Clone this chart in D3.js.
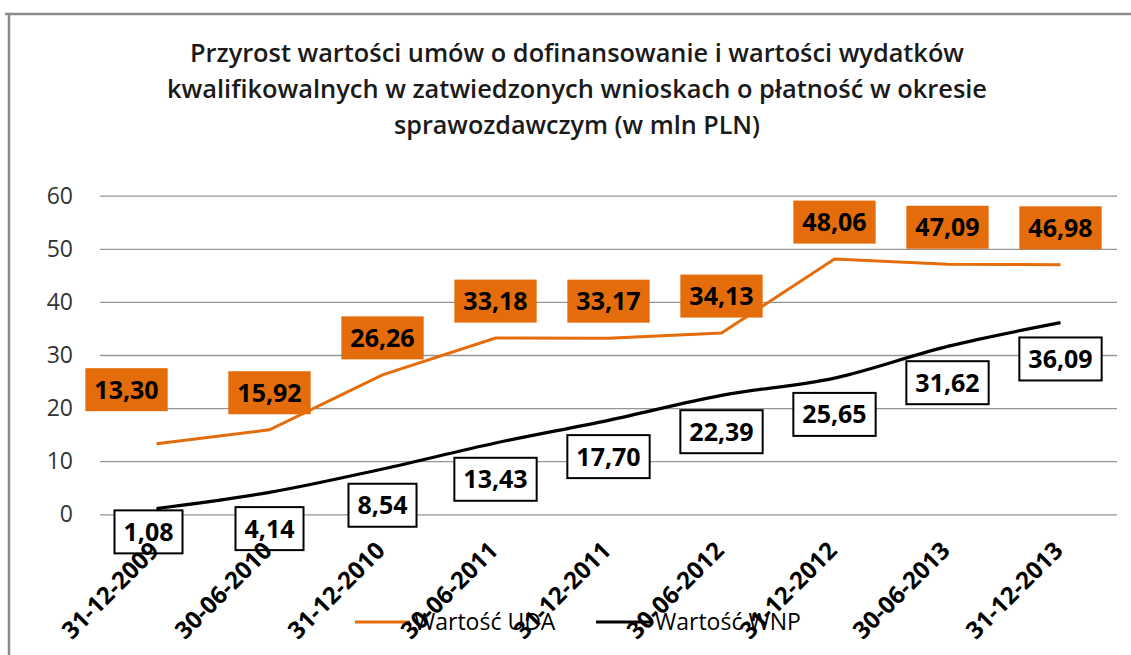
<!DOCTYPE html>
<html>
<head>
<meta charset="utf-8">
<script src="https://cdn.jsdelivr.net/npm/d3@7"></script>
<style>
body {margin:0; background:#fff;}
text {font-family:"Open Sans", "DejaVu Sans", sans-serif;}
</style>
</head>
<body>
<div id="chart"></div>
<script>
//Data
var dates = ["31-12-2009","30-06-2010","31-12-2010","30-06-2011","31-12-2011","30-06-2012","31-12-2012","30-06-2013","31-12-2013"];
var wartoscUDA = [13.30, 15.92, 26.26, 33.18, 33.17, 34.13, 48.06, 47.09, 46.98];
var wartoscWNP = [1.08, 4.14, 8.54, 13.43, 17.70, 22.39, 25.65, 31.62, 36.09];
var yTicks = [0, 10, 20, 30, 40, 50, 60];
var titleLines = ["Przyrost wartości umów o dofinansowanie  i wartości wydatków",
                  "kwalifikowalnych w zatwiedzonych wnioskach o płatność w okresie",
                  "sprawozdawczym (w mln PLN)"];
var legendNames = ["Wartość UDA", "Wartość WNP"];

var width = 1131, height = 655;
var orange = "#E46C0A";

var svg = d3.select("#chart").append("svg")
	.attr("width", width)
	.attr("height", height);

//frame (only top and left edge visible)
svg.append("path")
	.attr("d", "M5,14H1131M9,14V655")
	.style("fill", "none")
	.style("stroke", "#8c8c8c")
	.style("stroke-width", 2.5);

//title
var titleWidths = [774, 820, 366];
svg.selectAll("text.title")
	.data(titleLines).enter()
	.append("text")
	.attr("class", "title")
	.attr("x", 577)
	.attr("y", function(d, i) {return 62 + i*36;})
	.attr("text-anchor", "middle")
	.attr("textLength", function(d, i) {return titleWidths[i];})
	.attr("lengthAdjust", "spacingAndGlyphs")
	.style("font-size", "25px")
	.style("font-weight", "600")
	.style("fill", "#1a1a1a")
	.text(function(d) {return d;});

var x = d3.scaleBand().domain(dates).range([100, 1117]);
var y = d3.scaleLinear().domain([0, 60]).range([514.3, 195.7]);
function cx(i) {return x(dates[i]) + x.bandwidth()/2;}

//grid
svg.append("g")
	.attr("transform", "translate(100,0)")
	.call(d3.axisLeft(y).tickValues(yTicks).tickSize(-1017).tickFormat(""))
	.call(function(g) {g.select(".domain").remove();})
	.selectAll("line")
	.style("stroke", "#969696")
	.style("stroke-width", 1.3);

//y labels
svg.selectAll("text.ylab")
	.data(yTicks).enter()
	.append("text")
	.attr("class", "ylab")
	.attr("x", 73)
	.attr("y", function(d) {return y(d);})
	.attr("dy", "0.35em")
	.attr("text-anchor", "end")
	.style("font-size", "23px")
	.style("fill", "#333")
	.text(function(d) {return d;});

//lines
var lineUDA = d3.line()
	.x(function(d, i) {return cx(i);})
	.y(function(d) {return y(d);});
var lineWNP = d3.line()
	.x(function(d, i) {return cx(i);})
	.y(function(d) {return y(d);})
	.curve(d3.curveCardinal.tension(0));

svg.append("path")
	.datum(wartoscUDA)
	.attr("d", lineUDA)
	.style("fill", "none")
	.style("stroke", orange)
	.style("stroke-width", 3);

svg.append("path")
	.datum(wartoscWNP)
	.attr("d", lineWNP)
	.style("fill", "none")
	.style("stroke", "#000")
	.style("stroke-width", 3.2);

//data labels
var fmt = function(v) {return d3.format(".2f")(v).replace(".", ",");};
// a few labels were moved by hand in the original
var udaNudge = [[-30, -17], [0,0], [0,0], [0,0], [0,0], [0,0], [0,0], [0,0], [0,0]];
var wnpNudge = [[-8, -13], [0,0], [0,0], [0,0], [0,0], [0,0], [0,0], [0,0], [0,0]];

function addLabels(values, nudge, off, cls) {
	var g = svg.selectAll("g." + cls)
		.data(values).enter()
		.append("g")
		.attr("class", cls)
		.attr("transform", function(d, i) {
			return "translate(" + (cx(i) + nudge[i][0]) + "," + (y(d) + off + nudge[i][1]) + ")";
		});
	g.append("rect");
	g.append("text")
		.attr("text-anchor", "middle")
		.attr("dy", "0.36em")
		.style("font-size", "25px")
		.style("font-weight", "bold")
		.style("fill", "#000")
		.text(fmt);
	g.each(function() {
		var el = d3.select(this);
		var w = el.select("text").node().getComputedTextLength() + 18;
		el.select("rect")
			.attr("x", -w/2).attr("y", -21.5)
			.attr("width", w).attr("height", 43);
	});
	return g;
}

addLabels(wartoscUDA, udaNudge, -37, "lblUDA")
	.select("rect")
	.style("fill", orange);

addLabels(wartoscWNP, wnpNudge, 36.3, "lblWNP")
	.select("rect")
	.style("fill", "#fff")
	.style("stroke", "#000")
	.style("stroke-width", 2);

//legend
var legendX = [355, 596];
var legendColors = [orange, "#000"];
var leg = svg.selectAll("g.legend")
	.data(legendNames).enter()
	.append("g")
	.attr("class", "legend")
	.attr("transform", function(d, i) {return "translate(" + legendX[i] + ",622)";});
leg.append("line")
	.attr("x1", 0).attr("x2", 55)
	.style("stroke", function(d, i) {return legendColors[i];})
	.style("stroke-width", 3);
leg.append("text")
	.attr("x", 59)
	.attr("dy", "0.35em")
	.style("font-size", "23px")
	.style("fill", "#000")
	.text(function(d) {return d;});

//x labels (drawn last, they sit over boxes and legend in the original)
svg.selectAll("text.xlab")
	.data(dates).enter()
	.append("text")
	.attr("class", "xlab")
	.attr("transform", function(d, i) {return "translate(" + (cx(i) + 4) + ",552) rotate(-45)";})
	.attr("text-anchor", "end")
	.style("font-size", "24px")
	.style("font-weight", "bold")
	.style("fill", "#000")
	.text(function(d) {return d;});
</script>
</body>
</html>
